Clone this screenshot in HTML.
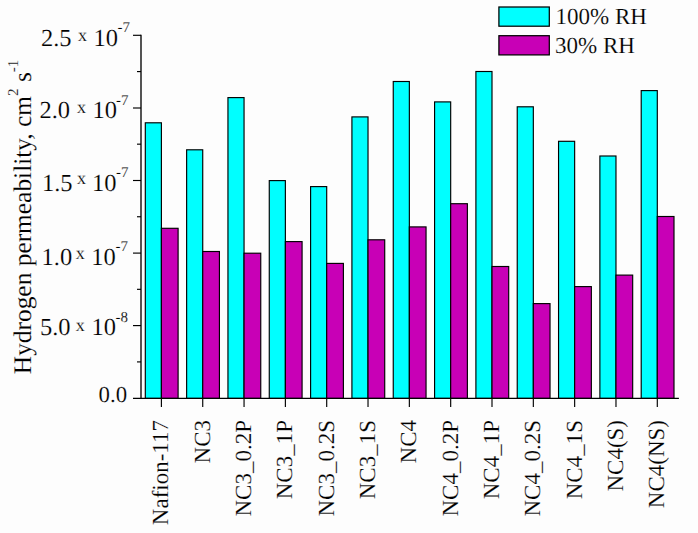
<!DOCTYPE html><html><head><meta charset="utf-8"><style>html,body{margin:0;padding:0;background:#fdfdfd;}svg{display:block;}text{font-family:"Liberation Serif", serif;fill:#000;text-rendering:geometricPrecision;stroke:#fdfdfd;stroke-width:0.15px;}</style></head><body>
<svg width="698" height="533" viewBox="0 0 698 533">
<rect x="0" y="0" width="698" height="533" fill="#fdfdfd"/>
<rect x="145.30" y="122.80" width="16.10" height="275.60" fill="#00FFFF" stroke="#000" stroke-width="1.15"/>
<rect x="161.40" y="228.30" width="16.70" height="170.10" fill="#C800B6" stroke="#000" stroke-width="1.15"/>
<rect x="186.63" y="149.80" width="16.10" height="248.60" fill="#00FFFF" stroke="#000" stroke-width="1.15"/>
<rect x="202.73" y="251.50" width="16.70" height="146.90" fill="#C800B6" stroke="#000" stroke-width="1.15"/>
<rect x="227.95" y="97.60" width="16.10" height="300.80" fill="#00FFFF" stroke="#000" stroke-width="1.15"/>
<rect x="244.05" y="253.20" width="16.70" height="145.20" fill="#C800B6" stroke="#000" stroke-width="1.15"/>
<rect x="269.27" y="180.60" width="16.10" height="217.80" fill="#00FFFF" stroke="#000" stroke-width="1.15"/>
<rect x="285.38" y="241.60" width="16.70" height="156.80" fill="#C800B6" stroke="#000" stroke-width="1.15"/>
<rect x="310.60" y="186.60" width="16.10" height="211.80" fill="#00FFFF" stroke="#000" stroke-width="1.15"/>
<rect x="326.70" y="263.40" width="16.70" height="135.00" fill="#C800B6" stroke="#000" stroke-width="1.15"/>
<rect x="351.92" y="116.90" width="16.10" height="281.50" fill="#00FFFF" stroke="#000" stroke-width="1.15"/>
<rect x="368.02" y="239.80" width="16.70" height="158.60" fill="#C800B6" stroke="#000" stroke-width="1.15"/>
<rect x="393.25" y="81.50" width="16.10" height="316.90" fill="#00FFFF" stroke="#000" stroke-width="1.15"/>
<rect x="409.35" y="226.90" width="16.70" height="171.50" fill="#C800B6" stroke="#000" stroke-width="1.15"/>
<rect x="434.58" y="101.90" width="16.10" height="296.50" fill="#00FFFF" stroke="#000" stroke-width="1.15"/>
<rect x="450.68" y="203.70" width="16.70" height="194.70" fill="#C800B6" stroke="#000" stroke-width="1.15"/>
<rect x="475.90" y="71.50" width="16.10" height="326.90" fill="#00FFFF" stroke="#000" stroke-width="1.15"/>
<rect x="492.00" y="266.50" width="16.70" height="131.90" fill="#C800B6" stroke="#000" stroke-width="1.15"/>
<rect x="517.23" y="106.80" width="16.10" height="291.60" fill="#00FFFF" stroke="#000" stroke-width="1.15"/>
<rect x="533.33" y="303.60" width="16.70" height="94.80" fill="#C800B6" stroke="#000" stroke-width="1.15"/>
<rect x="558.55" y="141.30" width="16.10" height="257.10" fill="#00FFFF" stroke="#000" stroke-width="1.15"/>
<rect x="574.65" y="286.60" width="16.70" height="111.80" fill="#C800B6" stroke="#000" stroke-width="1.15"/>
<rect x="599.88" y="156.00" width="16.10" height="242.40" fill="#00FFFF" stroke="#000" stroke-width="1.15"/>
<rect x="615.98" y="275.10" width="16.70" height="123.30" fill="#C800B6" stroke="#000" stroke-width="1.15"/>
<rect x="641.20" y="90.60" width="16.10" height="307.80" fill="#00FFFF" stroke="#000" stroke-width="1.15"/>
<rect x="657.30" y="216.50" width="16.70" height="181.90" fill="#C800B6" stroke="#000" stroke-width="1.15"/>
<g stroke="#000" stroke-width="1.15" fill="none">
<line x1="141.00" y1="34.70" x2="141.00" y2="398.40" stroke-width="1.35"/>
<line x1="133" y1="398.40" x2="678.9" y2="398.40"/>
<line x1="133" y1="35.30" x2="141.00" y2="35.30"/>
<line x1="133" y1="108.00" x2="141.00" y2="108.00"/>
<line x1="133" y1="180.50" x2="141.00" y2="180.50"/>
<line x1="133" y1="253.10" x2="141.00" y2="253.10"/>
<line x1="133" y1="325.60" x2="141.00" y2="325.60"/>
<line x1="137" y1="361.91" x2="141.00" y2="361.91"/>
<line x1="137" y1="289.33" x2="141.00" y2="289.33"/>
<line x1="137" y1="216.75" x2="141.00" y2="216.75"/>
<line x1="137" y1="144.17" x2="141.00" y2="144.17"/>
<line x1="137" y1="71.59" x2="141.00" y2="71.59"/>
<line x1="161.40" y1="398.40" x2="161.40" y2="406.9"/>
<line x1="202.73" y1="398.40" x2="202.73" y2="406.9"/>
<line x1="244.05" y1="398.40" x2="244.05" y2="406.9"/>
<line x1="285.38" y1="398.40" x2="285.38" y2="406.9"/>
<line x1="326.70" y1="398.40" x2="326.70" y2="406.9"/>
<line x1="368.02" y1="398.40" x2="368.02" y2="406.9"/>
<line x1="409.35" y1="398.40" x2="409.35" y2="406.9"/>
<line x1="450.68" y1="398.40" x2="450.68" y2="406.9"/>
<line x1="492.00" y1="398.40" x2="492.00" y2="406.9"/>
<line x1="533.33" y1="398.40" x2="533.33" y2="406.9"/>
<line x1="574.65" y1="398.40" x2="574.65" y2="406.9"/>
<line x1="615.98" y1="398.40" x2="615.98" y2="406.9"/>
<line x1="657.30" y1="398.40" x2="657.30" y2="406.9"/>
</g>
<text x="40.90" y="45.80" font-size="24.5">2.5</text>
<text x="77.90" y="41.00" font-size="18">x</text>
<text x="93.60" y="45.70" font-size="24.5">10</text>
<text x="117.50" y="31.90" font-size="15">-7</text>
<text x="39.40" y="118.00" font-size="24.5">2.0</text>
<text x="76.90" y="112.90" font-size="18">x</text>
<text x="92.50" y="118.00" font-size="24.5">10</text>
<text x="115.90" y="104.70" font-size="15">-7</text>
<text x="41.90" y="190.80" font-size="24.5">1.5</text>
<text x="77.00" y="184.30" font-size="18">x</text>
<text x="92.10" y="190.70" font-size="24.5">10</text>
<text x="115.90" y="176.50" font-size="15">-7</text>
<text x="41.50" y="264.60" font-size="24.5">1.0</text>
<text x="75.80" y="258.60" font-size="18">x</text>
<text x="91.20" y="264.70" font-size="24.5">10</text>
<text x="115.40" y="250.50" font-size="15">-7</text>
<text x="39.90" y="335.00" font-size="24.5">5.0</text>
<text x="75.80" y="330.60" font-size="18">x</text>
<text x="91.60" y="335.10" font-size="24.5">10</text>
<text x="115.40" y="321.80" font-size="15">-8</text>
<text x="98.6" y="402.3" font-size="22.8">0.0</text>
<text transform="translate(31.2,374.2) rotate(-90)" font-size="25.4">Hydrogen permeability, cm<tspan font-size="15" dy="-13.6">2</tspan><tspan dy="13.6"> s</tspan><tspan font-size="15" dy="-13.6">-1</tspan></text>
<text transform="translate(168.30,420) rotate(-90)" text-anchor="end" font-size="23">Nafion-117</text>
<text transform="translate(209.63,420) rotate(-90)" text-anchor="end" font-size="23">NC3</text>
<text transform="translate(250.95,420) rotate(-90)" text-anchor="end" font-size="23">NC3_0.2P</text>
<text transform="translate(292.27,420) rotate(-90)" text-anchor="end" font-size="23">NC3_1P</text>
<text transform="translate(333.60,420) rotate(-90)" text-anchor="end" font-size="23">NC3_0.2S</text>
<text transform="translate(374.92,420) rotate(-90)" text-anchor="end" font-size="23">NC3_1S</text>
<text transform="translate(416.25,420) rotate(-90)" text-anchor="end" font-size="23">NC4</text>
<text transform="translate(457.58,420) rotate(-90)" text-anchor="end" font-size="23">NC4_0.2P</text>
<text transform="translate(498.90,420) rotate(-90)" text-anchor="end" font-size="23">NC4_1P</text>
<text transform="translate(540.23,420) rotate(-90)" text-anchor="end" font-size="23">NC4_0.2S</text>
<text transform="translate(581.55,420) rotate(-90)" text-anchor="end" font-size="23">NC4_1S</text>
<text transform="translate(622.88,420) rotate(-90)" text-anchor="end" font-size="23">NC4(S)</text>
<text transform="translate(664.20,420) rotate(-90)" text-anchor="end" font-size="23">NC4(NS)</text>
<rect x="498.9" y="7.0" width="50.4" height="19.2" fill="#00FFFF" stroke="#000" stroke-width="1.25"/>
<rect x="498.9" y="35.7" width="50.4" height="19.2" fill="#C800B6" stroke="#000" stroke-width="1.25"/>
<text x="555.5" y="24" font-size="23">100% RH</text>
<text x="555" y="52.8" font-size="23">30% RH</text>
</svg></body></html>
